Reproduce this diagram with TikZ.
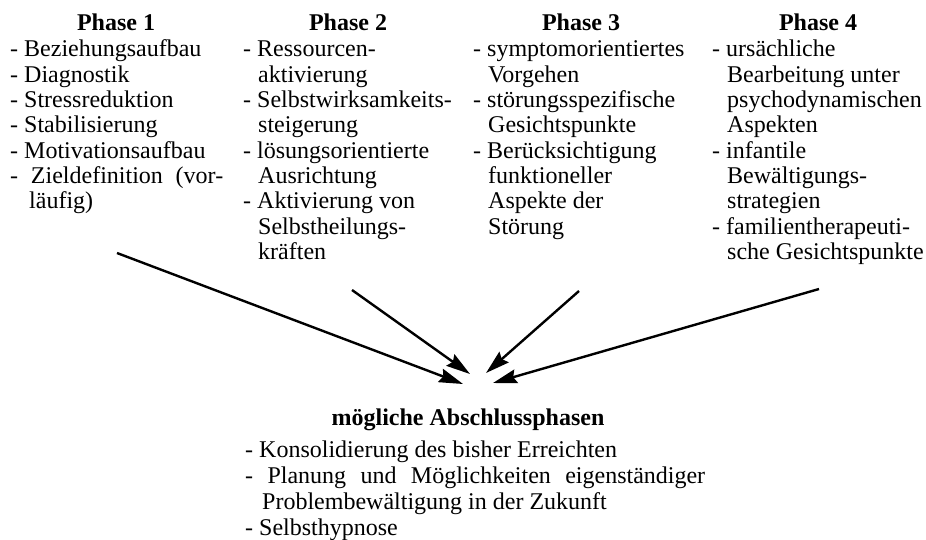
\documentclass[tikz,border=0pt]{standalone}
\usepackage{fontspec}
\setmainfont{Liberation Serif}
\usetikzlibrary{arrows.meta}
\newcommand\ind{\hspace*{15pt}}
\begin{document}
\begin{tikzpicture}[x=1pt,y=-1pt,
  body/.style={anchor=base west, align=left, inner sep=0pt, font=\fontsize{24}{25.3}\selectfont},
  head/.style={anchor=base, inner sep=0pt, font=\fontsize{24}{25.3}\selectfont\bfseries},
  arr/.style={line width=2.4pt, -{Stealth[length=24pt,width=14pt,inset=3pt]}}]
\useasboundingbox (0,0) rectangle (926,540);
\fill[white] (0,0) rectangle (926,540);
% headings
\node[head] (h1) at (116,31) {Phase 1};
\node[head] (h2) at (348,31) {Phase 2};
\node[head] (h3) at (581,31) {Phase 3};
\node[head] (h4) at (818,31) {Phase 4};
% columns (anchor = baseline of the last line)
\node[body] (p1) at (10,208.8) {- Beziehungsaufbau\\- Diagnostik\\- Stressreduktion\\- Stabilisierung\\- Motivationsaufbau\\\makebox[213pt][s]{- Zieldefinition (vor-}\\\hspace*{19pt}läufig)};
\node[body] (p2) at (243,259.4) {- Ressourcen-\\\ind aktivierung\\- Selbstwirksamkeits-\\\ind steigerung\\- lösungsorientierte\\\ind Ausrichtung\\- Aktivierung von\\\ind Selbstheilungs-\\\ind kräften};
\node[body] (p3) at (473,234.1) {- symptomorientiertes\\\ind Vorgehen\\- störungsspezifische\\\ind Gesichtspunkte\\- Berücksichtigung\\\ind funktioneller\\\ind Aspekte der\\\ind Störung};
\node[body] (p4) at (712,259.4) {- ursächliche\\\ind Bearbeitung unter\\\ind psychodynamischen\\\ind Aspekten\\- infantile\\\ind Bewältigungs-\\\ind strategien\\- familientherapeuti-\\\ind sche Gesichtspunkte};
% bottom
\node[head] (hb) at (468,425) {mögliche Abschlussphasen};
\node[body, font=\fontsize{24}{26}\selectfont] (pb) at (245,535) {- Konsolidierung des bisher Erreichten\\\makebox[460pt][s]{- Planung und Möglichkeiten eigenständiger}\\\hspace*{17pt}Problembewältigung in der Zukunft\\- Selbsthypnose};
% arrows
\coordinate (s1) at (117,253);
\coordinate (s2) at (352,290);
\coordinate (s3) at (579,291);
\coordinate (s4) at (819,289);
\coordinate (t1) at (463,384);
\coordinate (t2) at (470,374);
\coordinate (t3) at (486,373);
\coordinate (t4) at (493,383);
\draw[arr] (s1) -- (t1);
\draw[arr] (s2) -- (t2);
\draw[arr] (s3) -- (t3);
\draw[arr] (s4) -- (t4);
\end{tikzpicture}
\end{document}
